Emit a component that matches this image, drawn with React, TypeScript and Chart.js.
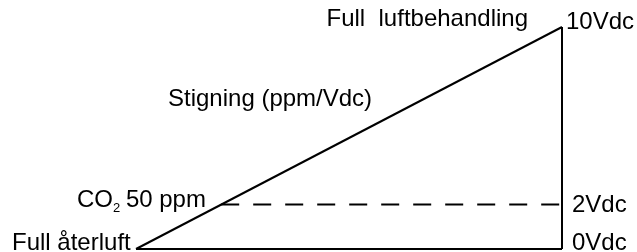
import React, { useEffect, useRef } from "react";
import { Chart, registerables } from "chart.js";

Chart.register(...registerables);

// Signal range (Vdc) and CO2 offset level
const rampX = [0, 10];
const rampY = [0, 10];
const edgeX = [10, 10];
const edgeY = [0, 10];
const baseX = [0, 10];
const baseY = [0, 0];
const offsetX = [2, 10];
const offsetY = [2, 2];

const voltageTicks = [0, 2, 10];
const voltageLabels = ["0Vdc", "2Vdc", "10Vdc"];

const topLabel = "Full  luftbehandling";
const slopeLabel = "Stigning (ppm/Vdc)";
const co2Label = ["CO", "2", " 50 ppm"];
const bottomLabel = "Full återluft";

const FONT = "'Liberation Sans', Arial, Helvetica, sans-serif";

const toPoints = (xs: number[], ys: number[]) => xs.map((x, i) => ({ x, y: ys[i] }));

const labelPlugin = {
  id: "labels",
  afterDraw(chart: any) {
    const { ctx } = chart;
    const xs = chart.scales.x;
    const ys = chart.scales.y;
    ctx.save();
    ctx.fillStyle = "#000";
    ctx.font = `24px ${FONT}`;
    ctx.textBaseline = "alphabetic";

    // right side voltage labels
    ctx.textAlign = "left";
    const vdx = [10, 10, 4];
    const vdy = [1, 7, 2];
    voltageTicks.forEach((v, i) => {
      ctx.fillText(voltageLabels[i], xs.getPixelForValue(10) + vdx[i], ys.getPixelForValue(v) + vdy[i]);
    });

    // top label
    ctx.textAlign = "right";
    ctx.fillText(topLabel, xs.getPixelForValue(10) - 34, ys.getPixelForValue(10) - 1);

    // slope label
    ctx.textAlign = "left";
    ctx.fillText(slopeLabel, xs.getPixelForValue(0) + 32, ys.getPixelForValue(6.45));

    // CO2 label
    let cx = xs.getPixelForValue(0) - 59;
    const cy = ys.getPixelForValue(2) + 2;
    ctx.fillText(co2Label[0], cx, cy);
    cx += ctx.measureText(co2Label[0]).width;
    ctx.font = `13px ${FONT}`;
    ctx.fillText(co2Label[1], cx, cy + 5);
    cx += ctx.measureText(co2Label[1]).width - 1;
    ctx.font = `24px ${FONT}`;
    ctx.fillText(co2Label[2], cx, cy);

    // bottom label
    ctx.fillText(bottomLabel, xs.getPixelForValue(0) - 124, ys.getPixelForValue(0) + 1);
    ctx.restore();
  },
};

export default function App() {
  const ref = useRef<HTMLCanvasElement>(null);
  useEffect(() => {
    if (!ref.current) return;
    const line = { borderColor: "#000", borderWidth: 2, pointRadius: 0, showLine: true, clip: false as any, fill: false };
    const chart = new Chart(ref.current, {
      type: "scatter",
      data: {
        datasets: [
          { ...line, data: toPoints(rampX, rampY) },
          { ...line, data: toPoints(edgeX, edgeY) },
          { ...line, data: toPoints(baseX, baseY) },
          { ...line, data: toPoints(offsetX, offsetY), borderDash: [18, 14] },
        ],
      },
      options: {
        responsive: false,
        animation: false,
        layout: { padding: { left: 136, right: 75, top: 27, bottom: 3 } },
        plugins: { legend: { display: false }, tooltip: { enabled: false } },
        scales: {
          x: { type: "linear", min: 0, max: 10, display: false },
          y: { type: "linear", min: 0, max: 10, display: false },
        },
      },
      plugins: [labelPlugin],
    });
    return () => chart.destroy();
  }, []);
  return (
    <div style={{ position: "absolute", left: 0, top: 0, width: 637, height: 252, background: "#fff" }}>
      <canvas ref={ref} width={637} height={252} />
    </div>
  );
}
